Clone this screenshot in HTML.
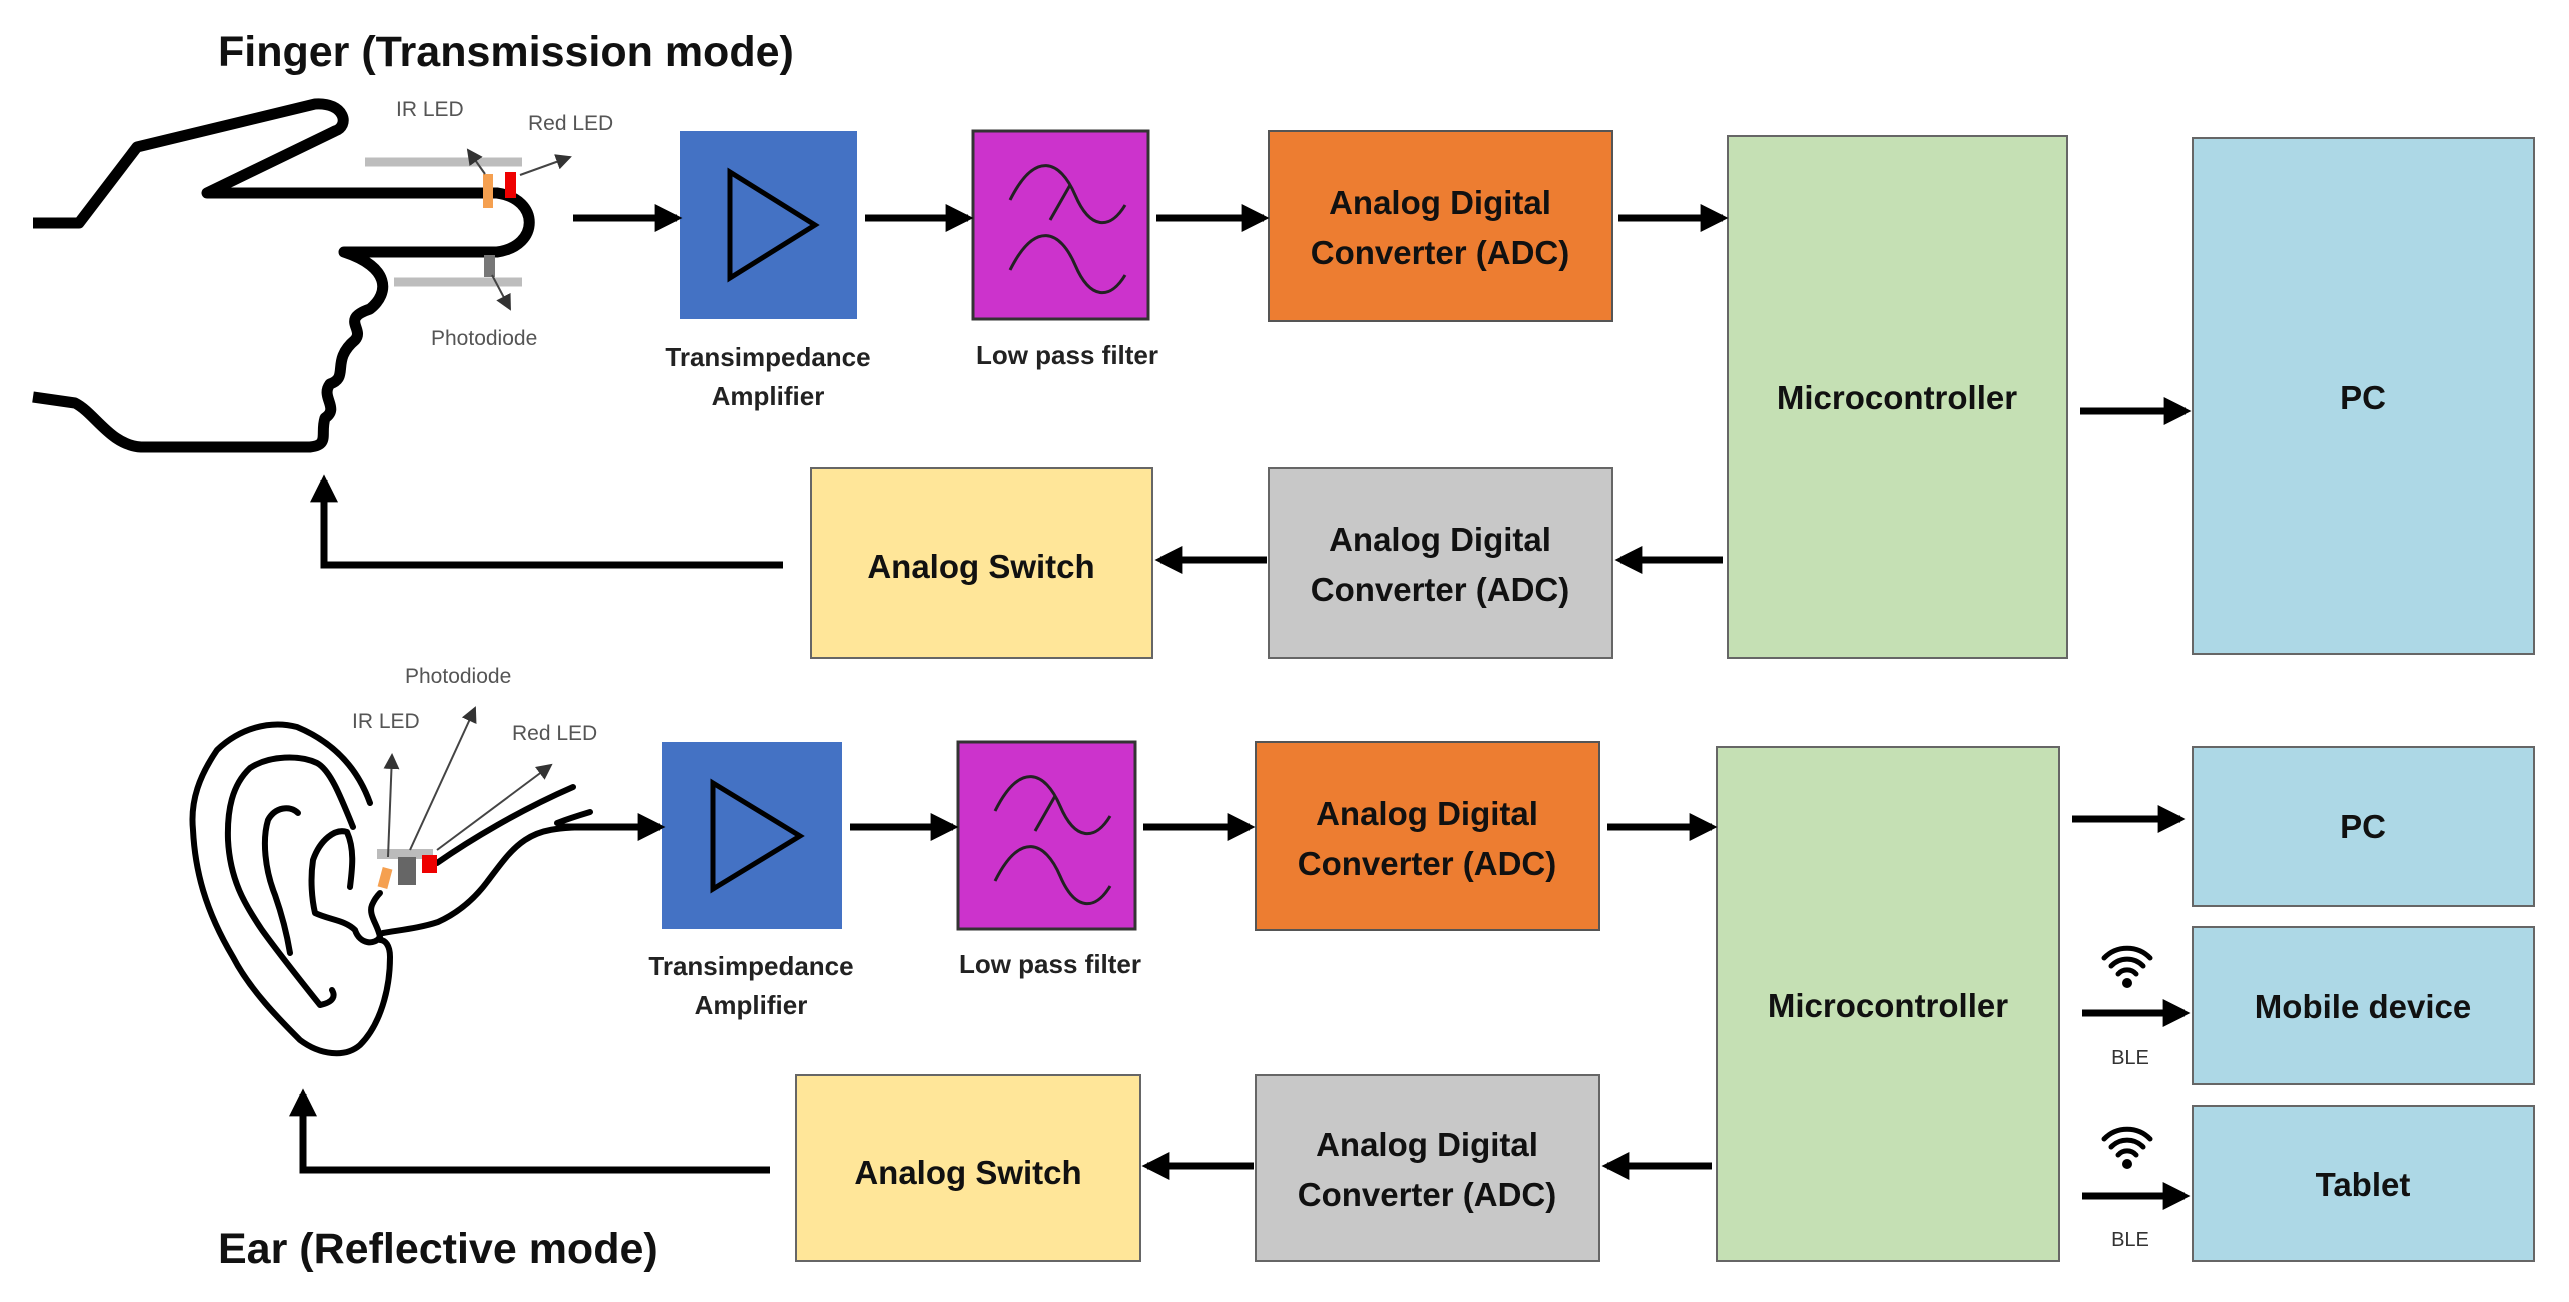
<!DOCTYPE html>
<html><head><meta charset="utf-8"><style>
html,body{margin:0;padding:0;background:#fff;}
svg{display:block;}
text{font-family:"Liberation Sans",sans-serif;font-weight:bold;fill:#111;}
.s{font-weight:normal;fill:#555;font-size:21px;}
.l{font-size:26px;fill:#222;}
.b{font-size:33px;}
</style></head><body>
<svg width="2569" height="1302" viewBox="0 0 2569 1302" xmlns="http://www.w3.org/2000/svg">
<defs>
<marker id="a" markerWidth="4" markerHeight="4" refX="3.2" refY="2" orient="auto" markerUnits="strokeWidth"><path d="M0,0 L4,2 L0,4 Z" fill="#000"/></marker>
<marker id="g" markerWidth="8" markerHeight="8" refX="7" refY="4" orient="auto" markerUnits="strokeWidth"><path d="M0,0 L8,4 L0,8 Z" fill="#333"/></marker>
</defs>
<rect width="2569" height="1302" fill="#fff"/>

<!-- Titles -->
<text x="218" y="66" font-size="43">Finger (Transmission mode)</text>
<text x="218" y="1263" font-size="43">Ear (Reflective mode)</text>

<!-- ===== TOP ROW ===== -->
<rect x="680" y="131" width="177" height="188" fill="#4472c4"/>
<path d="M730,172 L815,225 L730,278 Z" fill="none" stroke="#000" stroke-width="5"/>
<rect x="973" y="131" width="175" height="188" fill="#cc33cc" stroke="#333" stroke-width="3"/>
<path d="M1010,200 C1035,150 1060,160 1075,195 C1090,230 1110,230 1125,205 M1050,220 L1070,185 M1010,270 C1035,220 1060,230 1075,265 C1090,300 1110,300 1125,275" fill="none" stroke="#222" stroke-width="3"/>
<rect x="1269" y="131" width="343" height="190" fill="#ed7d31" stroke="#555" stroke-width="2"/>
<text x="1440" y="214" text-anchor="middle" class="b">Analog Digital</text>
<text x="1440" y="264" text-anchor="middle" class="b">Converter (ADC)</text>
<rect x="1728" y="136" width="339" height="522" fill="#c5e0b4" stroke="#666" stroke-width="2"/>
<text x="1897" y="409" text-anchor="middle" class="b">Microcontroller</text>
<rect x="2193" y="138" width="341" height="516" fill="#add8e6" stroke="#666" stroke-width="2"/>
<text x="2363" y="409" text-anchor="middle" class="b">PC</text>
<rect x="811" y="468" width="341" height="190" fill="#ffe699" stroke="#666" stroke-width="2"/>
<text x="981" y="578" text-anchor="middle" class="b">Analog Switch</text>
<rect x="1269" y="468" width="343" height="190" fill="#c8c8c8" stroke="#666" stroke-width="2"/>
<text x="1440" y="551" text-anchor="middle" class="b">Analog Digital</text>
<text x="1440" y="601" text-anchor="middle" class="b">Converter (ADC)</text>

<text x="768" y="366" text-anchor="middle" class="l">Transimpedance</text>
<text x="768" y="405" text-anchor="middle" class="l">Amplifier</text>
<text x="1067" y="364" text-anchor="middle" class="l">Low pass filter</text>

<g stroke="#000" stroke-width="7" fill="none" marker-end="url(#a)">
<line x1="573" y1="218" x2="677" y2="218"/>
<line x1="865" y1="218" x2="968" y2="218"/>
<line x1="1156" y1="218" x2="1264" y2="218"/>
<line x1="1618" y1="218" x2="1723" y2="218"/>
<line x1="2080" y1="411" x2="2186" y2="411"/>
<line x1="1723" y1="560" x2="1620" y2="560"/>
<line x1="1267" y1="560" x2="1160" y2="560"/>
<polyline points="783,565 324,565 324,480"/>
</g>

<!-- Hand -->
<path d="M33,223 L79,223 L137,147 L315,104 C345,102 350,126 335,131 L207,193 L497,193 C540,199 540,246 497,252 L344,252 C390,267 390,293 370,309 C340,319 365,329 355,340 C330,361 350,377 330,384 C320,397 340,408 325,418 C320,434 330,445 310,447 L141,447 C110,445 95,413 75,403 L33,397" fill="none" stroke="#000" stroke-width="11" stroke-linejoin="round"/>
<line x1="365" y1="162" x2="522" y2="162" stroke="#bdbdbd" stroke-width="9"/>
<line x1="394" y1="282" x2="522" y2="282" stroke="#bdbdbd" stroke-width="9"/>
<rect x="483" y="174" width="10" height="34" fill="#f5a050"/>
<rect x="505" y="172" width="11" height="26" fill="#e00"/>
<rect x="484" y="255" width="11" height="22" fill="#777"/>
<line x1="485" y1="174" x2="468" y2="150" stroke="#444" stroke-width="2" marker-end="url(#g)"/>
<line x1="520" y1="175" x2="570" y2="157" stroke="#444" stroke-width="2" marker-end="url(#g)"/>
<line x1="492" y1="275" x2="510" y2="309" stroke="#444" stroke-width="2" marker-end="url(#g)"/>
<text x="396" y="116" class="s">IR LED</text>
<text x="528" y="130" class="s">Red LED</text>
<text x="431" y="345" class="s">Photodiode</text>

<!-- ===== BOTTOM ROW ===== -->
<rect x="662" y="742" width="180" height="187" fill="#4472c4"/>
<path d="M713,783 L800,836 L713,889 Z" fill="none" stroke="#000" stroke-width="5"/>
<rect x="958" y="742" width="177" height="187" fill="#cc33cc" stroke="#333" stroke-width="3"/>
<path d="M995,811 C1020,761 1045,771 1060,806 C1075,841 1095,841 1110,816 M1035,831 L1055,796 M995,881 C1020,831 1045,841 1060,876 C1075,911 1095,911 1110,886" fill="none" stroke="#222" stroke-width="3"/>
<rect x="1256" y="742" width="343" height="188" fill="#ed7d31" stroke="#555" stroke-width="2"/>
<text x="1427" y="825" text-anchor="middle" class="b">Analog Digital</text>
<text x="1427" y="875" text-anchor="middle" class="b">Converter (ADC)</text>
<rect x="1717" y="747" width="342" height="514" fill="#c5e0b4" stroke="#666" stroke-width="2"/>
<text x="1888" y="1017" text-anchor="middle" class="b">Microcontroller</text>
<rect x="2193" y="747" width="341" height="159" fill="#add8e6" stroke="#666" stroke-width="2"/>
<text x="2363" y="838" text-anchor="middle" class="b">PC</text>
<rect x="2193" y="927" width="341" height="157" fill="#add8e6" stroke="#666" stroke-width="2"/>
<text x="2363" y="1018" text-anchor="middle" class="b">Mobile device</text>
<rect x="2193" y="1106" width="341" height="155" fill="#add8e6" stroke="#666" stroke-width="2"/>
<text x="2363" y="1196" text-anchor="middle" class="b">Tablet</text>
<rect x="796" y="1075" width="344" height="186" fill="#ffe699" stroke="#666" stroke-width="2"/>
<text x="968" y="1184" text-anchor="middle" class="b">Analog Switch</text>
<rect x="1256" y="1075" width="343" height="186" fill="#c8c8c8" stroke="#666" stroke-width="2"/>
<text x="1427" y="1156" text-anchor="middle" class="b">Analog Digital</text>
<text x="1427" y="1206" text-anchor="middle" class="b">Converter (ADC)</text>

<text x="751" y="975" text-anchor="middle" class="l">Transimpedance</text>
<text x="751" y="1014" text-anchor="middle" class="l">Amplifier</text>
<text x="1050" y="973" text-anchor="middle" class="l">Low pass filter</text>

<g stroke="#000" stroke-width="7" fill="none" marker-end="url(#a)">
<line x1="557" y1="827" x2="660" y2="827"/>
<line x1="850" y1="827" x2="953" y2="827"/>
<line x1="1143" y1="827" x2="1250" y2="827"/>
<line x1="1607" y1="827" x2="1712" y2="827"/>
<line x1="2072" y1="819" x2="2180" y2="819"/>
<line x1="2082" y1="1013" x2="2185" y2="1013"/>
<line x1="2082" y1="1196" x2="2185" y2="1196"/>
<line x1="1712" y1="1166" x2="1607" y2="1166"/>
<line x1="1254" y1="1166" x2="1147" y2="1166"/>
<polyline points="770,1170 303,1170 303,1094"/>
</g>
<!-- wifi icons -->
<g fill="none" stroke="#000" stroke-width="5" stroke-linecap="round">
<path d="M2104,958 A32,32 0 0 1 2150,958 M2111,966 A22,22 0 0 1 2143,966 M2118,974 A12,12 0 0 1 2136,974"/>
<path d="M2104,1139 A32,32 0 0 1 2150,1139 M2111,1147 A22,22 0 0 1 2143,1147 M2118,1155 A12,12 0 0 1 2136,1155"/>
</g>
<circle cx="2127" cy="983" r="5" fill="#000"/>
<circle cx="2127" cy="1164" r="5" fill="#000"/>
<text x="2130" y="1064" text-anchor="middle" class="s" style="font-size:20px;fill:#333">BLE</text>
<text x="2130" y="1246" text-anchor="middle" class="s" style="font-size:20px;fill:#333">BLE</text>

<!-- Ear -->
<g fill="none" stroke="#000" stroke-width="6" stroke-linecap="round" stroke-linejoin="round">
<path d="M370,803 C360,775 340,745 297,727 C270,720 240,728 217,750 C200,775 190,800 193,830 C195,870 205,910 233,957 C250,990 280,1020 300,1040 C320,1055 345,1058 360,1045 C380,1025 390,990 390,957 C390,945 385,940 380,940"/>
<path d="M353,827 C340,795 330,770 317,763 C300,755 270,755 250,768 C232,785 227,810 228,840 C230,880 245,905 262,930 C280,955 300,980 320,1005 C335,1002 335,995 332,990"/>
<path d="M298,813 C290,805 275,807 268,820 C262,840 265,870 275,895 C282,915 287,935 290,953"/>
<path d="M350,887 C352,870 355,850 347,832 C335,828 320,840 313,860 C310,880 312,900 315,913 C330,920 345,920 355,930 C360,945 375,945 380,937 C378,925 368,915 372,905 C375,898 378,895 380,893"/>
<path d="M383,933 C400,930 420,928 438,922 C460,912 475,898 487,882 C500,865 510,850 525,840 C540,830 555,827 600,827"/>
<path d="M437,863 C470,840 520,810 573,787"/>
<path d="M557,823 C570,818 580,815 590,812"/>
</g>
<rect x="377" y="849" width="56" height="10" fill="#bbb"/>
<rect x="380" y="868" width="10" height="20" fill="#f5a050" transform="rotate(15 385 878)"/>
<rect x="398" y="857" width="18" height="28" fill="#666"/>
<rect x="422" y="855" width="15" height="18" fill="#e00"/>
<line x1="388" y1="857" x2="392" y2="755" stroke="#444" stroke-width="2" marker-end="url(#g)"/>
<line x1="410" y1="850" x2="475" y2="708" stroke="#444" stroke-width="2" marker-end="url(#g)"/>
<line x1="437" y1="850" x2="551" y2="765" stroke="#444" stroke-width="2" marker-end="url(#g)"/>
<text x="405" y="683" class="s">Photodiode</text>
<text x="352" y="728" class="s">IR LED</text>
<text x="512" y="740" class="s">Red LED</text>
</svg>
</body></html>
